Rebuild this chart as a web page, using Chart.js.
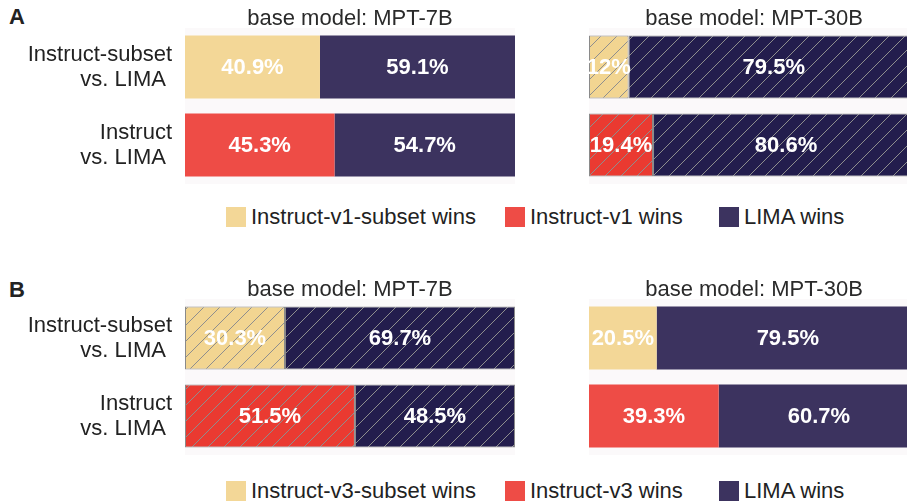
<!DOCTYPE html>
<html>
<head>
<meta charset="utf-8">
<script src="https://cdn.jsdelivr.net/npm/chart.js@4.4.1/dist/chart.umd.min.js"></script>
<style>
  body {
    margin: 0;
    width: 907px;
    height: 504px;
    overflow: hidden;
    position: relative;
    background: #fff;
    font-family: 'Liberation Sans', Arial, Helvetica, sans-serif;
    color: #222;
  }
  canvas, .tag, .legend-item { position: absolute; }
  .tag { font-size: 22px; font-weight: bold; line-height: 22px; left: 9px; }
  .legend-item { display: flex; align-items: center; height: 20px; font-size: 22px; white-space: nowrap; }
  .legend-item span.box { width: 20px; height: 20px; margin-right: 5px; display: inline-block; }
</style>
</head>
<body>
<div class="tag" style="top:6px">A</div>
<div class="tag" style="top:279px">B</div>
<canvas id="a7b" width="515" height="184" style="left:0;top:0"></canvas>
<canvas id="a30b" width="330" height="184" style="left:589px;top:0"></canvas>
<canvas id="b7b" width="515" height="184" style="left:0;top:271px"></canvas>
<canvas id="b30b" width="330" height="184" style="left:589px;top:271px"></canvas>
<div id="legendA"></div>
<div id="legendB"></div>
<script>
// ---------- data ----------
const categories = [['Instruct-subset', 'vs. LIMA '], ['Instruct', 'vs. LIMA ']];
const modelTitles = ['base model: MPT-7B', 'base model: MPT-30B'];

// Panel A: Instruct-v1 vs LIMA
const a7bInstruct = [40.9, 45.3];
const a7bLima = [59.1, 54.7];
const a30bInstruct = [12, 19.4];
const a30bLima = [88, 80.6];
const a30bLimaText = ['79.5%', '80.6%']; // the figure prints 79.5% on the first bar

// Panel B: Instruct-v3 vs LIMA
const b7bInstruct = [30.3, 51.5];
const b7bLima = [69.7, 48.5];
const b30bInstruct = [20.5, 39.3];
const b30bLima = [79.5, 60.7];

const legendA = ['Instruct-v1-subset wins', 'Instruct-v1 wins', 'LIMA wins'];
const legendB = ['Instruct-v3-subset wins', 'Instruct-v3 wins', 'LIMA wins'];

// ---------- style ----------
const FONT = "'Liberation Sans', Arial, Helvetica, sans-serif";
const flatColors = { subset: '#f3d797', full: '#ee4c46', lima: '#3c335f' };
const hatchColors = { subset: '#f2d591', full: '#ea3a31', lima: '#231d4d' };
const legendLeft = [226, 505, 719];

/**
 * Make a diagonal hatch pattern on top of a base colour.
 */
const makeHatch = (color) => {
  const size = 16;
  const tile = document.createElement('canvas');
  tile.width = size;
  tile.height = size;
  const c = tile.getContext('2d');
  c.fillStyle = color;
  c.fillRect(0, 0, size, size);
  c.strokeStyle = '#8e8e8e';
  c.lineWidth = 1;
  c.beginPath();
  c.moveTo(-2, size + 2); c.lineTo(size + 2, -2);
  c.moveTo(-2, 2); c.lineTo(2, -2);
  c.moveTo(size - 2, size + 2); c.lineTo(size + 2, size - 2);
  c.stroke();
  return c.createPattern(tile, 'repeat');
};

// panel background, title above the plot area and the value labels inside the bars
const panelDecor = {
  id: 'panelDecor',
  beforeDraw(chart) {
    const { ctx, chartArea: a } = chart;
    ctx.save();
    ctx.fillStyle = '#fbf9fa';
    ctx.fillRect(a.left, a.top, a.right - a.left, a.bottom - a.top);
    ctx.restore();
  },
  afterDraw(chart, args, opts) {
    const { ctx, chartArea: a } = chart;
    ctx.save();
    ctx.font = `22px ${FONT}`;
    ctx.fillStyle = '#2a2a2a';
    ctx.textAlign = 'center';
    ctx.textBaseline = 'alphabetic';
    ctx.fillText(opts.title, (a.left + a.right) / 2, a.top - 3);

    ctx.font = `bold 22px ${FONT}`;
    ctx.fillStyle = '#ffffff';
    ctx.textBaseline = 'middle';
    chart.data.datasets.forEach((ds, di) => {
      chart.getDatasetMeta(di).data.forEach((bar, i) => {
        const text = ds.labelText ? ds.labelText[i] : ds.data[i] + '%';
        ctx.fillText(text, (bar.x + bar.base) / 2, bar.y + 1);
      });
    });
    ctx.restore();
  },
};

/**
 * Build one stacked horizontal bar panel.
 */
const buildPanel = (id, title, instructVals, limaVals, { hatched = false, showLabels = false, limaText = null } = {}) => {
  const pal = hatched ? hatchColors : flatColors;
  const fill = (col) => (hatched ? makeHatch(col) : col);
  const border = hatched ? { borderColor: '#8a8a8a', borderWidth: 1, borderSkipped: false } : { borderWidth: 0 };

  const yScale = {
    stacked: true,
    display: showLabels,
    grid: { display: false, drawTicks: false },
    border: { display: false },
    ticks: { color: '#222', padding: 13, font: { family: FONT, size: 22, lineHeight: 1.14 } },
  };
  if (showLabels) {
    // fixed label column, and no extra room for the two-line labels above/below
    yScale.afterFit = (scale) => {
      scale.width = 185;
      scale.paddingTop = 0;
      scale.paddingBottom = 0;
    };
  }

  return new Chart(document.getElementById(id), {
    type: 'bar',
    data: {
      labels: categories,
      datasets: [
        { data: instructVals, backgroundColor: [fill(pal.subset), fill(pal.full)], ...border },
        { data: limaVals, backgroundColor: fill(pal.lima), labelText: limaText, ...border },
      ],
    },
    options: {
      indexAxis: 'y',
      responsive: false,
      animation: false,
      devicePixelRatio: 1,
      layout: { padding: { top: 28, left: 0, right: 0, bottom: 0 } },
      datasets: { bar: { categoryPercentage: 1, barPercentage: 0.81 } },
      scales: {
        x: { stacked: true, min: 0, max: 100, display: false },
        y: yScale,
      },
      plugins: {
        legend: { display: false },
        tooltip: { enabled: false },
        panelDecor: { title },
      },
    },
    plugins: [panelDecor],
  });
};

/**
 * Legend spanning both panels of a row.
 */
const buildLegend = (id, names, top) => {
  const $legend = document.getElementById(id);
  const cols = [flatColors.subset, flatColors.full, flatColors.lima];
  names.forEach((name, i) => {
    const $item = document.createElement('div');
    $item.className = 'legend-item';
    $item.style.left = legendLeft[i] + 'px';
    $item.style.top = top + 'px';
    $item.innerHTML = `<span class="box" style="background:${cols[i]}"></span>${name}`;
    $legend.appendChild($item);
  });
};

buildPanel('a7b', modelTitles[0], a7bInstruct, a7bLima, { showLabels: true });
buildPanel('a30b', modelTitles[1], a30bInstruct, a30bLima, { hatched: true, limaText: a30bLimaText });
buildPanel('b7b', modelTitles[0], b7bInstruct, b7bLima, { hatched: true, showLabels: true });
buildPanel('b30b', modelTitles[1], b30bInstruct, b30bLima);
buildLegend('legendA', legendA, 207);
buildLegend('legendB', legendB, 481);
</script>
</body>
</html>
